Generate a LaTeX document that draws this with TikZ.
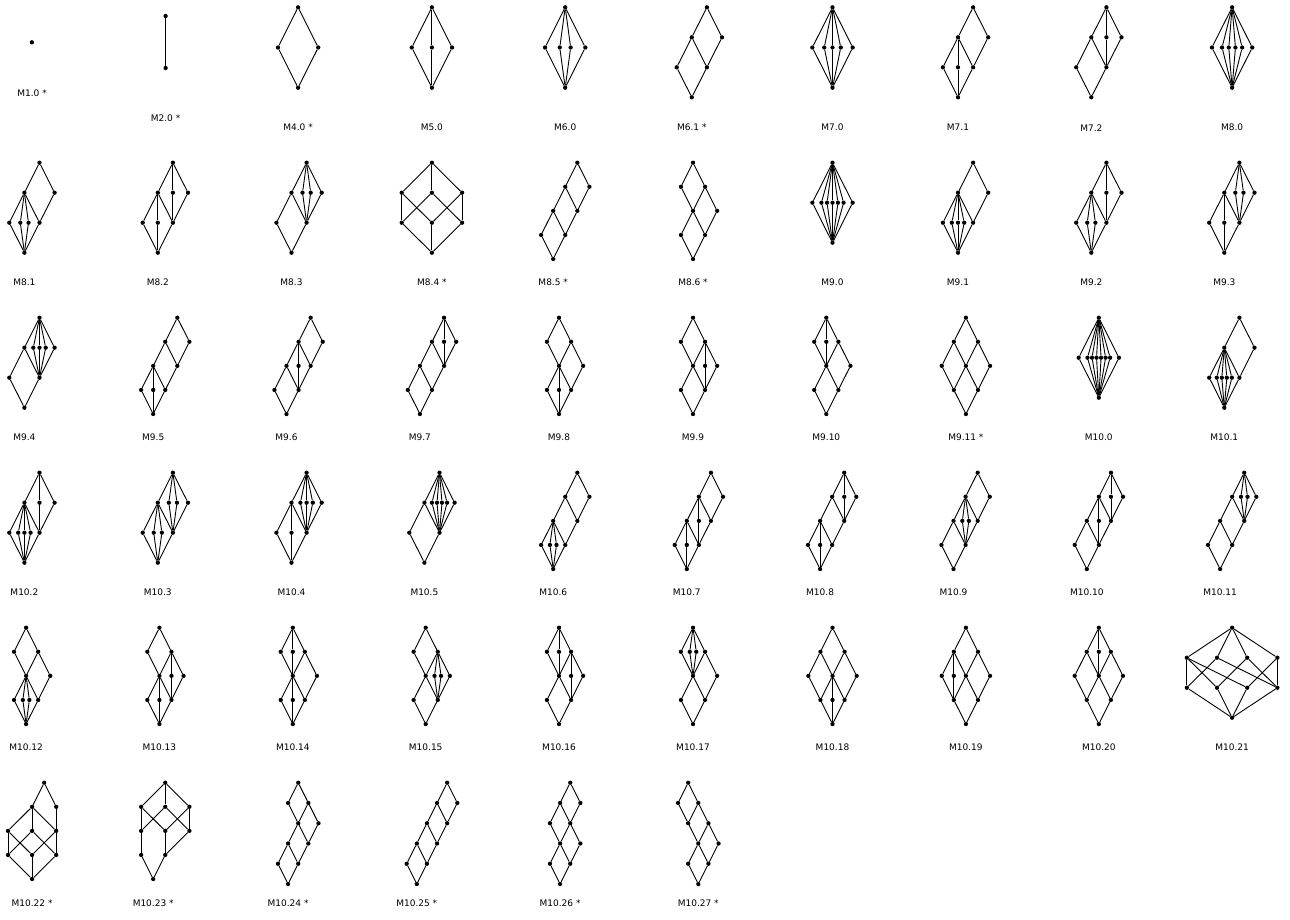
\documentclass[tikz,border=0pt]{standalone}
\usepackage{fontspec}
\setmainfont{DejaVu Sans}
\newcommand{\pfx}{}
\newcommand{\hd}[3]{\node[dot] (\pfx-#1) at (#2,#3) {};}
\newcommand{\eds}[1]{\foreach \fa/\fb in {#1}{\draw[edge] (\pfx-\fa)--(\pfx-\fb);}}
\tikzset{
 dot/.style={circle,fill=black,inner sep=0pt,minimum size=4.3pt},
 edge/.style={line width=0.9pt,black},
 lab/.style={font=\fontsize{9}{11}\selectfont,inner sep=0pt,text=black},
 Ltwo/.style={x=20.15pt,y=-40.2pt},
 Lthree/.style={x=15.1pt,y=-30pt},
 Lfour/.style={x=12.07pt,y=-24.08pt},
 Lfive/.style={x=10.13pt,y=-20.26pt}
}
\begin{document}
\begin{tikzpicture}[x=1pt,y=-1pt]
\fill[white] (0,0) rectangle (1290,919);
\useasboundingbox (0,0) rectangle (1290,919);
%================ ROW 1 ================
% M1.0
\node[dot] (m10x-t) at (31.9,42.3) {};
\node[lab] (m10x-l) at (32.1,93.3) {M1.0 *};
% M2.0
\node[dot] (m20-t) at (165.6,16) {};
\node[dot] (m20-z) at (165.6,68) {};
\draw[edge] (m20-t)--(m20-z);
\node[lab] (m20-l) at (165.6,118.3) {M2.0 *};
% M4.0
\renewcommand{\pfx}{m40}
\begin{scope}[shift={(298.1pt,-7.3pt)},Ltwo]
\hd{t}{0}{0}\hd{a}{-1}{1}\hd{b}{1}{1}\hd{z}{0}{2}
\eds{t/a,t/b,a/z,b/z}
\end{scope}
\node[lab] (m40-l) at (298.1,127.7) {M4.0 *};
% M5.0
\renewcommand{\pfx}{m50}
\begin{scope}[shift={(431.9pt,-7.3pt)},Ltwo]
\hd{t}{0}{0}\hd{a}{-1}{1}\hd{m}{0}{1}\hd{b}{1}{1}\hd{z}{0}{2}
\eds{t/a,t/m,t/b,a/z,m/z,b/z}
\end{scope}
\node[lab] (m50-l) at (431.9,127.7) {M5.0};
% M6.0
\renewcommand{\pfx}{m60}
\begin{scope}[shift={(565.2pt,-7.3pt)},Ltwo]
\hd{t}{0}{0}\hd{a1}{-1}{1}\hd{a2}{-0.27}{1}\hd{a3}{0.27}{1}\hd{a4}{1}{1}\hd{z}{0}{2}
\eds{t/a1,t/a2,t/a3,t/a4,a1/z,a2/z,a3/z,a4/z}
\end{scope}
\node[lab] (m60-l) at (565.2,127.7) {M6.0};
% M6.1
\renewcommand{\pfx}{m61}
\begin{scope}[shift={(691.8pt,-7.3pt)},Lthree]
\hd{t}{1}{0}\hd{a}{0}{1}\hd{b}{2}{1}\hd{c}{-1}{2}\hd{d}{1}{2}\hd{z}{0}{3}
\eds{t/a,t/b,a/c,a/d,b/d,c/z,d/z}
\end{scope}
\node[lab] (m61-l) at (691.8,127.7) {M6.1 *};
% M7.0
\renewcommand{\pfx}{m70}
\begin{scope}[shift={(832.5pt,-7.3pt)},Ltwo]
\hd{t}{0}{0}\hd{a1}{-1}{1}\hd{a2}{-0.41}{1}\hd{a3}{0}{1}\hd{a4}{0.41}{1}\hd{a5}{1}{1}\hd{z}{0}{2}
\eds{t/a1,t/a2,t/a3,t/a4,t/a5,a1/z,a2/z,a3/z,a4/z,a5/z}
\end{scope}
\node[lab] (m70-l) at (832.5,127.7) {M7.0};
% M7.1
\renewcommand{\pfx}{m71}
\begin{scope}[shift={(958pt,-7.3pt)},Lthree]
\hd{t}{1}{0}\hd{a}{0}{1}\hd{b}{2}{1}\hd{c1}{-1}{2}\hd{c2}{0}{2}\hd{c3}{1}{2}\hd{z}{0}{3}
\eds{t/a,t/b,a/c1,a/c2,a/c3,b/c3,c1/z,c2/z,c3/z}
\end{scope}
\node[lab] (m71-l) at (958,127.7) {M7.1};
% M7.2
\renewcommand{\pfx}{m72}
\begin{scope}[shift={(1091.3pt,-7.3pt)},Lthree]
\hd{t}{1}{0}\hd{a}{0}{1}\hd{m}{1}{1}\hd{b}{2}{1}\hd{c}{-1}{2}\hd{d}{1}{2}\hd{z}{0}{3}
\eds{t/a,t/m,t/b,a/c,a/d,m/d,b/d,c/z,d/z}
\end{scope}
\node[lab] (m72-l) at (1091.3,127.7) {M7.2};
% M8.0
\renewcommand{\pfx}{m80}
\begin{scope}[shift={(1232.1pt,-7.3pt)},Ltwo]
\hd{t}{0}{0}\hd{a1}{-1}{1}\hd{a2}{-0.5}{1}\hd{a3}{-0.165}{1}\hd{a4}{0.165}{1}\hd{a5}{0.5}{1}\hd{a6}{1}{1}\hd{z}{0}{2}
\eds{t/a1,t/a2,t/a3,t/a4,t/a5,t/a6,a1/z,a2/z,a3/z,a4/z,a5/z,a6/z}
\end{scope}
\node[lab] (m80-l) at (1232.1,127.7) {M8.0};
%================ ROW 2 ================
% M8.1
\renewcommand{\pfx}{m81}
\begin{scope}[shift={(24.4pt,-162.7pt)},Lthree]
\hd{t}{1}{0}\hd{a}{0}{1}\hd{b}{2}{1}\hd{c1}{-1}{2}\hd{c2}{-0.27}{2}\hd{c3}{0.27}{2}\hd{d}{1}{2}\hd{z}{0}{3}
\eds{t/a,t/b,a/c1,a/c2,a/c3,a/d,b/d,c1/z,c2/z,c3/z,d/z}
\end{scope}
\node[lab] (m81-l) at (24.4,282.7) {M8.1};
% M8.2
\renewcommand{\pfx}{m82}
\begin{scope}[shift={(157.8pt,-162.7pt)},Lthree]
\hd{t}{1}{0}\hd{a}{0}{1}\hd{m}{1}{1}\hd{b}{2}{1}\hd{c1}{-1}{2}\hd{c2}{0}{2}\hd{d}{1}{2}\hd{z}{0}{3}
\eds{t/a,t/m,t/b,m/d,b/d,a/c1,a/c2,a/d,c1/z,c2/z,d/z}
\end{scope}
\node[lab] (m82-l) at (157.8,282.7) {M8.2};
% M8.3
\renewcommand{\pfx}{m83}
\begin{scope}[shift={(291.5pt,-162.7pt)},Lthree]
\hd{t}{1}{0}\hd{a}{0}{1}\hd{m1}{0.73}{1}\hd{m2}{1.27}{1}\hd{b}{2}{1}\hd{c}{-1}{2}\hd{d}{1}{2}\hd{z}{0}{3}
\eds{t/a,t/m1,t/m2,t/b,m1/d,m2/d,b/d,a/c,a/d,c/z,d/z}
\end{scope}
\node[lab] (m83-l) at (291.5,282.7) {M8.3};
% M8.4
\renewcommand{\pfx}{m84}
\begin{scope}[shift={(431.9pt,-162.7pt)},Lthree]
\hd{t}{0}{0}\hd{a}{-2}{1}\hd{m}{0}{1}\hd{b}{2}{1}\hd{c}{-2}{2}\hd{n}{0}{2}\hd{d}{2}{2}\hd{z}{0}{3}
\eds{t/a,t/m,t/b,a/c,a/n,m/c,m/d,b/n,b/d,c/z,n/z,d/z}
\end{scope}
\node[lab] (m84-l) at (431.9,282.7) {M8.4 *};
% M8.5
\renewcommand{\pfx}{m85}
\begin{scope}[shift={(553.2pt,-162.7pt)},Lfour]
\hd{t}{2}{0}\hd{a}{1}{1}\hd{b}{3}{1}\hd{c}{0}{2}\hd{d}{2}{2}\hd{e}{-1}{3}\hd{f}{1}{3}\hd{z}{0}{4}
\eds{t/a,t/b,a/c,a/d,b/d,c/e,c/f,d/f,e/z,f/z}
\end{scope}
\node[lab] (m85-l) at (553.2,282.7) {M8.5 *};
% M8.6
\renewcommand{\pfx}{m86}
\begin{scope}[shift={(693pt,-162.7pt)},Lfour]
\hd{t}{0}{0}\hd{a}{-1}{1}\hd{b}{1}{1}\hd{c}{0}{2}\hd{d}{2}{2}\hd{e}{-1}{3}\hd{f}{1}{3}\hd{z}{0}{4}
\eds{t/a,t/b,a/c,b/c,b/d,c/e,c/f,d/f,e/z,f/z}
\end{scope}
\node[lab] (m86-l) at (693,282.7) {M8.6 *};
% M9.0
\renewcommand{\pfx}{m90}
\begin{scope}[shift={(832.5pt,-162.7pt)},Ltwo,y=-40pt]
\hd{t}{0}{0}\hd{a1}{-1}{1}\hd{a2}{-0.55}{1}\hd{a3}{-0.27}{1}\hd{a4}{0}{1}\hd{a5}{0.27}{1}\hd{a6}{0.55}{1}\hd{a7}{1}{1}\hd{z}{0}{2}
\eds{t/a1,t/a2,t/a3,t/a4,t/a5,t/a6,t/a7,a1/z,a2/z,a3/z,a4/z,a5/z,a6/z,a7/z}
\end{scope}
\node[lab] (m90-l) at (832.5,282.7) {M9.0};
% M9.1
\renewcommand{\pfx}{m91}
\begin{scope}[shift={(958pt,-162.7pt)},Lthree]
\hd{t}{1}{0}\hd{a}{0}{1}\hd{b}{2}{1}\hd{c1}{-1}{2}\hd{c2}{-0.41}{2}\hd{c3}{0}{2}\hd{c4}{0.41}{2}\hd{d}{1}{2}\hd{z}{0}{3}
\eds{t/a,t/b,a/c1,a/c2,a/c3,a/c4,a/d,b/d,c1/z,c2/z,c3/z,c4/z,d/z}
\end{scope}
\node[lab] (m91-l) at (958,282.7) {M9.1};
% M9.2
\renewcommand{\pfx}{m92}
\begin{scope}[shift={(1091.3pt,-162.7pt)},Lthree]
\hd{t}{1}{0}\hd{a}{0}{1}\hd{m}{1}{1}\hd{b}{2}{1}\hd{c1}{-1}{2}\hd{c2}{-0.27}{2}\hd{c3}{0.27}{2}\hd{d}{1}{2}\hd{z}{0}{3}
\eds{t/a,t/m,t/b,m/d,b/d,a/c1,a/c2,a/c3,a/d,c1/z,c2/z,c3/z,d/z}
\end{scope}
\node[lab] (m92-l) at (1091.3,282.7) {M9.2};
% M9.3
\renewcommand{\pfx}{m93}
\begin{scope}[shift={(1224.3pt,-162.7pt)},Lthree]
\hd{t}{1}{0}\hd{a}{0}{1}\hd{m1}{0.73}{1}\hd{m2}{1.27}{1}\hd{b}{2}{1}\hd{c}{-1}{2}\hd{n}{0}{2}\hd{d}{1}{2}\hd{z}{0}{3}
\eds{t/a,t/m1,t/m2,t/b,m1/d,m2/d,b/d,a/c,a/n,a/d,c/z,n/z,d/z}
\end{scope}
\node[lab] (m93-l) at (1224.3,282.7) {M9.3};
%================ ROW 3 ================
% M9.4
\renewcommand{\pfx}{m94}
\begin{scope}[shift={(24.4pt,-317.7pt)},Lthree]
\hd{t}{1}{0}\hd{a}{0}{1}\hd{m1}{0.59}{1}\hd{m2}{1}{1}\hd{m3}{1.41}{1}\hd{b}{2}{1}\hd{c}{-1}{2}\hd{d}{1}{2}\hd{z}{0}{3}
\eds{t/a,t/m1,t/m2,t/m3,t/b,m1/d,m2/d,m3/d,b/d,a/c,a/d,c/z,d/z}
\end{scope}
\node[lab] (m94-l) at (24.4,437.7) {M9.4};
% M9.5
\renewcommand{\pfx}{m95}
\begin{scope}[shift={(153.2pt,-317.7pt)},Lfour]
\hd{t}{2}{0}\hd{a}{1}{1}\hd{b}{3}{1}\hd{c}{0}{2}\hd{d}{2}{2}\hd{e1}{-1}{3}\hd{e2}{0}{3}\hd{f}{1}{3}\hd{z}{0}{4}
\eds{t/a,t/b,a/c,a/d,b/d,c/e1,c/e2,c/f,d/f,e1/z,e2/z,f/z}
\end{scope}
\node[lab] (m95-l) at (153.2,437.7) {M9.5};
% M9.6
\renewcommand{\pfx}{m96}
\begin{scope}[shift={(286.5pt,-317.7pt)},Lfour]
\hd{t}{2}{0}\hd{a}{1}{1}\hd{b}{3}{1}\hd{c}{0}{2}\hd{m}{1}{2}\hd{d}{2}{2}\hd{e}{-1}{3}\hd{f}{1}{3}\hd{z}{0}{4}
\eds{t/a,t/b,a/c,a/m,a/d,b/d,c/e,c/f,m/f,d/f,e/z,f/z}
\end{scope}
\node[lab] (m96-l) at (286.5,437.7) {M9.6};
% M9.7
\renewcommand{\pfx}{m97}
\begin{scope}[shift={(419.9pt,-317.7pt)},Lfour]
\hd{t}{2}{0}\hd{a}{1}{1}\hd{m}{2}{1}\hd{b}{3}{1}\hd{c}{0}{2}\hd{d}{2}{2}\hd{e}{-1}{3}\hd{f}{1}{3}\hd{z}{0}{4}
\eds{t/a,t/m,t/b,m/d,b/d,a/c,a/d,c/e,c/f,d/f,e/z,f/z}
\end{scope}
\node[lab] (m97-l) at (419.9,437.7) {M9.7};
% M9.8
\renewcommand{\pfx}{m98}
\begin{scope}[shift={(559pt,-317.7pt)},Lfour]
\hd{t}{0}{0}\hd{a}{-1}{1}\hd{b}{1}{1}\hd{c}{0}{2}\hd{d}{2}{2}\hd{e}{-1}{3}\hd{m}{0}{3}\hd{f}{1}{3}\hd{z}{0}{4}
\eds{t/a,t/b,a/c,b/c,b/d,c/e,c/m,c/f,d/f,e/z,m/z,f/z}
\end{scope}
\node[lab] (m98-l) at (559,437.7) {M9.8};
% M9.9
\renewcommand{\pfx}{m99}
\begin{scope}[shift={(693pt,-317.7pt)},Lfour]
\hd{t}{0}{0}\hd{a}{-1}{1}\hd{b}{1}{1}\hd{c}{0}{2}\hd{m}{1}{2}\hd{d}{2}{2}\hd{e}{-1}{3}\hd{f}{1}{3}\hd{z}{0}{4}
\eds{t/a,t/b,a/c,b/c,b/m,b/d,c/e,c/f,m/f,d/f,e/z,f/z}
\end{scope}
\node[lab] (m99-l) at (693,437.7) {M9.9};
% M9.10
\renewcommand{\pfx}{m910}
\begin{scope}[shift={(826.3pt,-317.7pt)},Lfour]
\hd{t}{0}{0}\hd{a}{-1}{1}\hd{m}{0}{1}\hd{b}{1}{1}\hd{c}{0}{2}\hd{d}{2}{2}\hd{e}{-1}{3}\hd{f}{1}{3}\hd{z}{0}{4}
\eds{t/a,t/m,t/b,a/c,m/c,b/c,b/d,c/e,c/f,d/f,e/z,f/z}
\end{scope}
\node[lab] (m910-l) at (826.3,437.7) {M9.10};
% M9.11
\renewcommand{\pfx}{m911}
\begin{scope}[shift={(965.9pt,-317.7pt)},Lfour]
\hd{t}{0}{0}\hd{a}{-1}{1}\hd{b}{1}{1}\hd{c}{-2}{2}\hd{m}{0}{2}\hd{d}{2}{2}\hd{e}{-1}{3}\hd{f}{1}{3}\hd{z}{0}{4}
\eds{t/a,t/b,a/c,a/m,b/m,b/d,c/e,m/e,m/f,d/f,e/z,f/z}
\end{scope}
\node[lab] (m911-l) at (965.9,437.7) {M9.11 *};
% M10.0
\renewcommand{\pfx}{m100}
\begin{scope}[shift={(1098.8pt,-317.7pt)},Ltwo,y=-40pt]
\hd{t}{0}{0}\hd{a1}{-1}{1}\hd{a2}{-0.562}{1}\hd{a3}{-0.337}{1}\hd{a4}{-0.112}{1}\hd{a5}{0.112}{1}\hd{a6}{0.337}{1}\hd{a7}{0.562}{1}\hd{a8}{1}{1}\hd{z}{0}{2}
\eds{t/a1,t/a2,t/a3,t/a4,t/a5,t/a6,t/a7,t/a8,a1/z,a2/z,a3/z,a4/z,a5/z,a6/z,a7/z,a8/z}
\end{scope}
\node[lab] (m100-l) at (1098.8,437.7) {M10.0};
% M10.1
\renewcommand{\pfx}{m101}
\begin{scope}[shift={(1224.3pt,-317.7pt)},Lthree]
\hd{t}{1}{0}\hd{a}{0}{1}\hd{b}{2}{1}\hd{c1}{-1}{2}\hd{c2}{-0.5}{2}\hd{c3}{-0.165}{2}\hd{c4}{0.165}{2}\hd{c5}{0.5}{2}\hd{d}{1}{2}\hd{z}{0}{3}
\eds{t/a,t/b,a/c1,a/c2,a/c3,a/c4,a/c5,a/d,b/d,c1/z,c2/z,c3/z,c4/z,c5/z,d/z}
\end{scope}
\node[lab] (m101-l) at (1224.3,437.7) {M10.1};
%================ ROW 4 ================
% M10.2
\renewcommand{\pfx}{m102}
\begin{scope}[shift={(24.4pt,-472.7pt)},Lthree]
\hd{t}{1}{0}\hd{a}{0}{1}\hd{m}{1}{1}\hd{b}{2}{1}\hd{c1}{-1}{2}\hd{c2}{-0.41}{2}\hd{c3}{0}{2}\hd{c4}{0.41}{2}\hd{d}{1}{2}\hd{z}{0}{3}
\eds{t/a,t/m,t/b,m/d,b/d,a/c1,a/c2,a/c3,a/c4,a/d,c1/z,c2/z,c3/z,c4/z,d/z}
\end{scope}
\node[lab] (m102-l) at (24.4,592.7) {M10.2};
% M10.3
\renewcommand{\pfx}{m103}
\begin{scope}[shift={(157.8pt,-472.7pt)},Lthree]
\hd{t}{1}{0}\hd{a}{0}{1}\hd{m1}{0.73}{1}\hd{m2}{1.27}{1}\hd{b}{2}{1}\hd{c1}{-1}{2}\hd{c2}{-0.27}{2}\hd{c3}{0.27}{2}\hd{d}{1}{2}\hd{z}{0}{3}
\eds{t/a,t/m1,t/m2,t/b,m1/d,m2/d,b/d,a/c1,a/c2,a/c3,a/d,c1/z,c2/z,c3/z,d/z}
\end{scope}
\node[lab] (m103-l) at (157.8,592.7) {M10.3};
% M10.4
\renewcommand{\pfx}{m104}
\begin{scope}[shift={(291.5pt,-472.7pt)},Lthree]
\hd{t}{1}{0}\hd{a}{0}{1}\hd{m1}{0.59}{1}\hd{m2}{1}{1}\hd{m3}{1.41}{1}\hd{b}{2}{1}\hd{c}{-1}{2}\hd{n}{0}{2}\hd{d}{1}{2}\hd{z}{0}{3}
\eds{t/a,t/m1,t/m2,t/m3,t/b,m1/d,m2/d,m3/d,b/d,a/c,a/n,a/d,c/z,n/z,d/z}
\end{scope}
\node[lab] (m104-l) at (291.5,592.7) {M10.4};
% M10.5
\renewcommand{\pfx}{m105}
\begin{scope}[shift={(424.4pt,-472.7pt)},Lthree]
\hd{t}{1}{0}\hd{a}{0}{1}\hd{m1}{0.5}{1}\hd{m2}{0.835}{1}\hd{m3}{1.165}{1}\hd{m4}{1.5}{1}\hd{b}{2}{1}\hd{c}{-1}{2}\hd{d}{1}{2}\hd{z}{0}{3}
\eds{t/a,t/m1,t/m2,t/m3,t/m4,t/b,m1/d,m2/d,m3/d,m4/d,b/d,a/c,a/d,c/z,d/z}
\end{scope}
\node[lab] (m105-l) at (424.4,592.7) {M10.5};
% M10.6
\renewcommand{\pfx}{m106}
\begin{scope}[shift={(553.2pt,-472.7pt)},Lfour]
\hd{t}{2}{0}\hd{a}{1}{1}\hd{b}{3}{1}\hd{c}{0}{2}\hd{d}{2}{2}\hd{e1}{-1}{3}\hd{e2}{-0.27}{3}\hd{e3}{0.27}{3}\hd{f}{1}{3}\hd{z}{0}{4}
\eds{t/a,t/b,a/c,a/d,b/d,c/e1,c/e2,c/e3,c/f,d/f,e1/z,e2/z,e3/z,f/z}
\end{scope}
\node[lab] (m106-l) at (553.2,592.7) {M10.6};
% M10.7
\renewcommand{\pfx}{m107}
\begin{scope}[shift={(686.8pt,-472.7pt)},Lfour]
\hd{t}{2}{0}\hd{a}{1}{1}\hd{b}{3}{1}\hd{c}{0}{2}\hd{m}{1}{2}\hd{d}{2}{2}\hd{e1}{-1}{3}\hd{e2}{0}{3}\hd{f}{1}{3}\hd{z}{0}{4}
\eds{t/a,t/b,a/c,a/m,a/d,b/d,c/e1,c/e2,c/f,m/f,d/f,e1/z,e2/z,f/z}
\end{scope}
\node[lab] (m107-l) at (686.8,592.7) {M10.7};
% M10.8
\renewcommand{\pfx}{m108}
\begin{scope}[shift={(820.1pt,-472.7pt)},Lfour]
\hd{t}{2}{0}\hd{a}{1}{1}\hd{m}{2}{1}\hd{b}{3}{1}\hd{c}{0}{2}\hd{d}{2}{2}\hd{e1}{-1}{3}\hd{e2}{0}{3}\hd{f}{1}{3}\hd{z}{0}{4}
\eds{t/a,t/m,t/b,m/d,b/d,a/c,a/d,c/e1,c/e2,c/f,d/f,e1/z,e2/z,f/z}
\end{scope}
\node[lab] (m108-l) at (820.1,592.7) {M10.8};
% M10.9
\renewcommand{\pfx}{m109}
\begin{scope}[shift={(953.5pt,-472.7pt)},Lfour]
\hd{t}{2}{0}\hd{a}{1}{1}\hd{b}{3}{1}\hd{c}{0}{2}\hd{m1}{0.73}{2}\hd{m2}{1.27}{2}\hd{d}{2}{2}\hd{e}{-1}{3}\hd{f}{1}{3}\hd{z}{0}{4}
\eds{t/a,t/b,a/c,a/m1,a/m2,a/d,b/d,c/e,c/f,m1/f,m2/f,d/f,e/z,f/z}
\end{scope}
\node[lab] (m109-l) at (953.5,592.7) {M10.9};
% M10.10
\renewcommand{\pfx}{m1010}
\begin{scope}[shift={(1086.8pt,-472.7pt)},Lfour]
\hd{t}{2}{0}\hd{a}{1}{1}\hd{m}{2}{1}\hd{b}{3}{1}\hd{c}{0}{2}\hd{n}{1}{2}\hd{d}{2}{2}\hd{e}{-1}{3}\hd{f}{1}{3}\hd{z}{0}{4}
\eds{t/a,t/m,t/b,m/d,b/d,a/c,a/n,a/d,c/e,c/f,n/f,d/f,e/z,f/z}
\end{scope}
\node[lab] (m1010-l) at (1086.8,592.7) {M10.10};
% M10.11
\renewcommand{\pfx}{m1011}
\begin{scope}[shift={(1220.1pt,-472.7pt)},Lfour]
\hd{t}{2}{0}\hd{a}{1}{1}\hd{m1}{1.73}{1}\hd{m2}{2.27}{1}\hd{b}{3}{1}\hd{c}{0}{2}\hd{d}{2}{2}\hd{e}{-1}{3}\hd{f}{1}{3}\hd{z}{0}{4}
\eds{t/a,t/m1,t/m2,t/b,m1/d,m2/d,b/d,a/c,a/d,c/e,c/f,d/f,e/z,f/z}
\end{scope}
\node[lab] (m1011-l) at (1220.1,592.7) {M10.11};
%================ ROW 5 ================
% M10.12
\renewcommand{\pfx}{m1012}
\begin{scope}[shift={(26.1pt,-627.7pt)},Lfour]
\hd{t}{0}{0}\hd{a}{-1}{1}\hd{b}{1}{1}\hd{c}{0}{2}\hd{d}{2}{2}\hd{e1}{-1}{3}\hd{e2}{-0.27}{3}\hd{e3}{0.27}{3}\hd{f}{1}{3}\hd{z}{0}{4}
\eds{t/a,t/b,a/c,b/c,b/d,c/e1,c/e2,c/e3,c/f,d/f,e1/z,e2/z,e3/z,f/z}
\end{scope}
\node[lab] (m1012-l) at (26.1,747.7) {M10.12};
% M10.13
\renewcommand{\pfx}{m1013}
\begin{scope}[shift={(159.4pt,-627.7pt)},Lfour]
\hd{t}{0}{0}\hd{a}{-1}{1}\hd{b}{1}{1}\hd{c}{0}{2}\hd{m}{1}{2}\hd{d}{2}{2}\hd{e1}{-1}{3}\hd{e2}{0}{3}\hd{f}{1}{3}\hd{z}{0}{4}
\eds{t/a,t/b,a/c,b/c,b/m,b/d,c/e1,c/e2,c/f,m/f,d/f,e1/z,e2/z,f/z}
\end{scope}
\node[lab] (m1013-l) at (159.4,747.7) {M10.13};
% M10.14
\renewcommand{\pfx}{m1014}
\begin{scope}[shift={(292.8pt,-627.7pt)},Lfour]
\hd{t}{0}{0}\hd{a}{-1}{1}\hd{m}{0}{1}\hd{b}{1}{1}\hd{c}{0}{2}\hd{d}{2}{2}\hd{e1}{-1}{3}\hd{e2}{0}{3}\hd{f}{1}{3}\hd{z}{0}{4}
\eds{t/a,t/m,t/b,a/c,m/c,b/c,b/d,c/e1,c/e2,c/f,d/f,e1/z,e2/z,f/z}
\end{scope}
\node[lab] (m1014-l) at (292.8,747.7) {M10.14};
% M10.15
\renewcommand{\pfx}{m1015}
\begin{scope}[shift={(425.7pt,-627.7pt)},Lfour]
\hd{t}{0}{0}\hd{a}{-1}{1}\hd{b}{1}{1}\hd{c}{0}{2}\hd{m1}{0.73}{2}\hd{m2}{1.27}{2}\hd{d}{2}{2}\hd{e}{-1}{3}\hd{f}{1}{3}\hd{z}{0}{4}
\eds{t/a,t/b,a/c,b/c,b/m1,b/m2,b/d,c/e,c/f,m1/f,m2/f,d/f,e/z,f/z}
\end{scope}
\node[lab] (m1015-l) at (425.7,747.7) {M10.15};
% M10.16
\renewcommand{\pfx}{m1016}
\begin{scope}[shift={(559pt,-627.7pt)},Lfour]
\hd{t}{0}{0}\hd{a}{-1}{1}\hd{m}{0}{1}\hd{b}{1}{1}\hd{c}{0}{2}\hd{n}{1}{2}\hd{d}{2}{2}\hd{e}{-1}{3}\hd{f}{1}{3}\hd{z}{0}{4}
\eds{t/a,t/m,t/b,a/c,m/c,b/c,b/n,b/d,c/e,c/f,n/f,d/f,e/z,f/z}
\end{scope}
\node[lab] (m1016-l) at (559,747.7) {M10.16};
% M10.17
\renewcommand{\pfx}{m1017}
\begin{scope}[shift={(693pt,-627.7pt)},Lfour]
\hd{t}{0}{0}\hd{a}{-1}{1}\hd{m1}{-0.27}{1}\hd{m2}{0.27}{1}\hd{b}{1}{1}\hd{c}{0}{2}\hd{d}{2}{2}\hd{e}{-1}{3}\hd{f}{1}{3}\hd{z}{0}{4}
\eds{t/a,t/m1,t/m2,t/b,a/c,m1/c,m2/c,b/c,b/d,c/e,c/f,d/f,e/z,f/z}
\end{scope}
\node[lab] (m1017-l) at (693,747.7) {M10.17};
% M10.18
\renewcommand{\pfx}{m1018}
\begin{scope}[shift={(832.5pt,-627.7pt)},Lfour]
\hd{t}{0}{0}\hd{a}{-1}{1}\hd{b}{1}{1}\hd{c}{-2}{2}\hd{m}{0}{2}\hd{d}{2}{2}\hd{e}{-1}{3}\hd{n}{0}{3}\hd{f}{1}{3}\hd{z}{0}{4}
\eds{t/a,t/b,a/c,a/m,b/m,b/d,c/e,m/e,m/n,m/f,d/f,e/z,n/z,f/z}
\end{scope}
\node[lab] (m1018-l) at (832.5,747.7) {M10.18};
% M10.19
\renewcommand{\pfx}{m1019}
\begin{scope}[shift={(965.9pt,-627.7pt)},Lfour]
\hd{t}{0}{0}\hd{a}{-1}{1}\hd{b}{1}{1}\hd{c}{-2}{2}\hd{n}{-1}{2}\hd{m}{0}{2}\hd{d}{2}{2}\hd{e}{-1}{3}\hd{f}{1}{3}\hd{z}{0}{4}
\eds{t/a,t/b,a/c,a/n,a/m,b/m,b/d,c/e,n/e,m/e,m/f,d/f,e/z,f/z}
\end{scope}
\node[lab] (m1019-l) at (965.9,747.7) {M10.19};
% M10.20
\renewcommand{\pfx}{m1020}
\begin{scope}[shift={(1098.8pt,-627.7pt)},Lfour]
\hd{t}{0}{0}\hd{a}{-1}{1}\hd{n}{0}{1}\hd{b}{1}{1}\hd{c}{-2}{2}\hd{m}{0}{2}\hd{d}{2}{2}\hd{e}{-1}{3}\hd{f}{1}{3}\hd{z}{0}{4}
\eds{t/a,t/n,t/b,a/c,a/m,n/m,b/m,b/d,c/e,m/e,m/f,d/f,e/z,f/z}
\end{scope}
\node[lab] (m1020-l) at (1098.8,747.7) {M10.20};
% M10.21
\renewcommand{\pfx}{m1021}
\begin{scope}[shift={(1232.1pt,-627.7pt)},Lthree]
\hd{t}{0}{0}\hd{a}{-3}{1}\hd{b}{-1}{1}\hd{c}{1}{1}\hd{d}{3}{1}\hd{p}{-3}{2}\hd{q}{-1}{2}\hd{r}{1}{2}\hd{s}{3}{2}\hd{z}{0}{3}
\eds{t/a,t/b,t/c,t/d,a/p,a/q,a/r,b/p,b/s,c/q,c/s,d/r,d/s,p/z,q/z,r/z,s/z}
\end{scope}
\node[lab] (m1021-l) at (1232.1,747.7) {M10.21};
%================ ROW 6 ================
% M10.22
\renewcommand{\pfx}{m1022}
\begin{scope}[shift={(32.1pt,-782.7pt)},Lfour]
\hd{t}{1}{0}\hd{a}{0}{1}\hd{b}{2}{1}\hd{c}{-2}{2}\hd{m}{0}{2}\hd{d}{2}{2}\hd{e}{-2}{3}\hd{n}{0}{3}\hd{f}{2}{3}\hd{z}{0}{4}
\eds{t/a,t/b,a/c,a/m,a/d,b/d,c/e,c/n,m/e,m/f,d/n,d/f,e/z,n/z,f/z}
\end{scope}
\node[lab] (m1022-l) at (32.1,903.3) {M10.22 *};
% M10.23
\renewcommand{\pfx}{m1023}
\begin{scope}[shift={(153.2pt,-782.7pt)},Lfour]
\hd{t}{1}{0}\hd{a}{-1}{1}\hd{m}{1}{1}\hd{b}{3}{1}\hd{c}{-1}{2}\hd{n}{1}{2}\hd{d}{3}{2}\hd{e}{-1}{3}\hd{f}{1}{3}\hd{z}{0}{4}
\eds{t/a,t/m,t/b,a/c,a/n,m/c,m/d,b/n,b/d,c/e,n/f,d/f,e/z,f/z}
\end{scope}
\node[lab] (m1023-l) at (153.2,903.3) {M10.23 *};
% M10.24
\renewcommand{\pfx}{m1024}
\begin{scope}[shift={(288.1pt,-782.7pt)},Lfive]
\hd{t}{1}{0}\hd{a}{0}{1}\hd{b}{2}{1}\hd{c}{1}{2}\hd{d}{3}{2}\hd{e}{0}{3}\hd{f}{2}{3}\hd{g}{-1}{4}\hd{h}{1}{4}\hd{z}{0}{5}
\eds{t/a,t/b,a/c,b/c,b/d,c/e,c/f,d/f,e/g,e/h,f/h,g/z,h/z}
\end{scope}
\node[lab] (m1024-l) at (288.1,903.3) {M10.24 *};
% M10.25
\renewcommand{\pfx}{m1025}
\begin{scope}[shift={(416.8pt,-782.7pt)},Lfive]
\hd{t}{3}{0}\hd{a}{2}{1}\hd{b}{4}{1}\hd{c}{1}{2}\hd{d}{3}{2}\hd{e}{0}{3}\hd{f}{2}{3}\hd{g}{-1}{4}\hd{h}{1}{4}\hd{z}{0}{5}
\eds{t/a,t/b,a/c,a/d,b/d,c/e,c/f,d/f,e/g,e/h,f/h,g/z,h/z}
\end{scope}
\node[lab] (m1025-l) at (416.8,903.3) {M10.25 *};
% M10.26
\renewcommand{\pfx}{m1026}
\begin{scope}[shift={(560.1pt,-782.7pt)},Lfive]
\hd{t}{1}{0}\hd{a}{0}{1}\hd{b}{2}{1}\hd{c}{-1}{2}\hd{d}{1}{2}\hd{e}{0}{3}\hd{f}{2}{3}\hd{g}{-1}{4}\hd{h}{1}{4}\hd{z}{0}{5}
\eds{t/a,t/b,a/c,a/d,b/d,c/e,d/e,d/f,e/g,e/h,f/h,g/z,h/z}
\end{scope}
\node[lab] (m1026-l) at (560.1,903.3) {M10.26 *};
% M10.27
\renewcommand{\pfx}{m1027}
\begin{scope}[shift={(698.3pt,-782.7pt)},Lfive]
\hd{t}{-1}{0}\hd{a}{-2}{1}\hd{b}{0}{1}\hd{c}{-1}{2}\hd{d}{1}{2}\hd{e}{0}{3}\hd{f}{2}{3}\hd{g}{-1}{4}\hd{h}{1}{4}\hd{z}{0}{5}
\eds{t/a,t/b,a/c,b/c,b/d,c/e,d/e,d/f,e/g,e/h,f/h,g/z,h/z}
\end{scope}
\node[lab] (m1027-l) at (698.3,903.3) {M10.27 *};
\end{tikzpicture}
\end{document}
